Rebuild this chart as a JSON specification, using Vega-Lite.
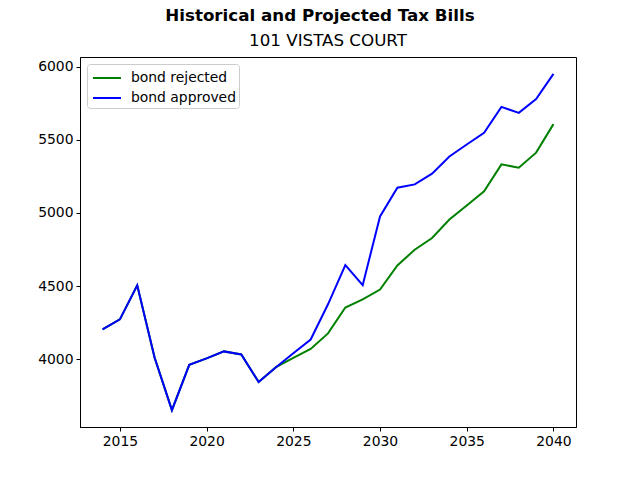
{
  "$schema": "https://vega.github.io/schema/vega-lite/v6.json",
  "width": 496,
  "height": 370,
  "autosize": "none",
  "padding": {"left": 80, "top": 57, "right": 64, "bottom": 53},
  "background": "white",
  "config": {
    "font": "DejaVu Sans",
    "view": {"stroke": "black", "strokeWidth": 1},
    "axis": {"grid": false, "domainColor": "black", "tickColor": "black", "labelColor": "black", "labelFontSize": 13.9, "tickSize": 4, "labelPadding": 3, "domain": true, "titleFontSize": 13}
  },
  "title": {
    "text": "Historical and Projected Tax Bills",
    "subtitle": "101 VISTAS COURT",
    "fontSize": 16.7,
    "fontWeight": "bold",
    "subtitleFontSize": 16.7,
    "subtitleColor": "black",
    "color": "black",
    "anchor": "middle",
    "offset": 7,
    "subtitlePadding": 9,
    "encode": {"title": {"update": {"dx": {"value": -8}}}}
  },
  "data": {
    "values": [
      {"year": 2014, "scenario": "bond rejected", "value": 4203},
      {"year": 2015, "scenario": "bond rejected", "value": 4272},
      {"year": 2016, "scenario": "bond rejected", "value": 4505},
      {"year": 2017, "scenario": "bond rejected", "value": 4011},
      {"year": 2018, "scenario": "bond rejected", "value": 3651},
      {"year": 2019, "scenario": "bond rejected", "value": 3961},
      {"year": 2020, "scenario": "bond rejected", "value": 4005},
      {"year": 2021, "scenario": "bond rejected", "value": 4053},
      {"year": 2022, "scenario": "bond rejected", "value": 4032},
      {"year": 2023, "scenario": "bond rejected", "value": 3843},
      {"year": 2024, "scenario": "bond rejected", "value": 3945},
      {"year": 2025, "scenario": "bond rejected", "value": 4008},
      {"year": 2026, "scenario": "bond rejected", "value": 4070},
      {"year": 2027, "scenario": "bond rejected", "value": 4176},
      {"year": 2028, "scenario": "bond rejected", "value": 4353},
      {"year": 2029, "scenario": "bond rejected", "value": 4408},
      {"year": 2030, "scenario": "bond rejected", "value": 4476},
      {"year": 2031, "scenario": "bond rejected", "value": 4641},
      {"year": 2032, "scenario": "bond rejected", "value": 4748},
      {"year": 2033, "scenario": "bond rejected", "value": 4828},
      {"year": 2034, "scenario": "bond rejected", "value": 4955},
      {"year": 2035, "scenario": "bond rejected", "value": 5051},
      {"year": 2036, "scenario": "bond rejected", "value": 5147},
      {"year": 2037, "scenario": "bond rejected", "value": 5332},
      {"year": 2038, "scenario": "bond rejected", "value": 5309},
      {"year": 2039, "scenario": "bond rejected", "value": 5412},
      {"year": 2040, "scenario": "bond rejected", "value": 5607},
      {"year": 2014, "scenario": "bond approved", "value": 4203},
      {"year": 2015, "scenario": "bond approved", "value": 4272},
      {"year": 2016, "scenario": "bond approved", "value": 4505},
      {"year": 2017, "scenario": "bond approved", "value": 4011},
      {"year": 2018, "scenario": "bond approved", "value": 3651},
      {"year": 2019, "scenario": "bond approved", "value": 3961},
      {"year": 2020, "scenario": "bond approved", "value": 4005},
      {"year": 2021, "scenario": "bond approved", "value": 4053},
      {"year": 2022, "scenario": "bond approved", "value": 4032},
      {"year": 2023, "scenario": "bond approved", "value": 3843},
      {"year": 2024, "scenario": "bond approved", "value": 3945},
      {"year": 2025, "scenario": "bond approved", "value": 4040},
      {"year": 2026, "scenario": "bond approved", "value": 4134},
      {"year": 2027, "scenario": "bond approved", "value": 4375},
      {"year": 2028, "scenario": "bond approved", "value": 4643},
      {"year": 2029, "scenario": "bond approved", "value": 4506},
      {"year": 2030, "scenario": "bond approved", "value": 4976},
      {"year": 2031, "scenario": "bond approved", "value": 5172},
      {"year": 2032, "scenario": "bond approved", "value": 5195},
      {"year": 2033, "scenario": "bond approved", "value": 5268},
      {"year": 2034, "scenario": "bond approved", "value": 5386},
      {"year": 2035, "scenario": "bond approved", "value": 5468},
      {"year": 2036, "scenario": "bond approved", "value": 5548},
      {"year": 2037, "scenario": "bond approved", "value": 5725},
      {"year": 2038, "scenario": "bond approved", "value": 5684},
      {"year": 2039, "scenario": "bond approved", "value": 5778},
      {"year": 2040, "scenario": "bond approved", "value": 5951}
    ]
  },
  "mark": {"type": "line", "strokeWidth": 2, "clip": true},
  "encoding": {
    "x": {
      "field": "year",
      "type": "quantitative",
      "scale": {"domain": [2012.7, 2041.3], "nice": false, "zero": false},
      "axis": {"title": null, "values": [2015, 2020, 2025, 2030, 2035, 2040], "format": "d"}
    },
    "y": {
      "field": "value",
      "type": "quantitative",
      "scale": {"domain": [3536, 6066], "nice": false, "zero": false},
      "axis": {"title": null, "values": [4000, 4500, 5000, 5500, 6000], "format": "d"}
    },
    "color": {
      "field": "scenario",
      "type": "nominal",
      "scale": {"domain": ["bond rejected", "bond approved"], "range": ["green", "blue"]},
      "legend": {
        "title": null,
        "orient": "top-left",
        "offset": 7,
        "symbolType": "M-1.4,0H1.4",
        "symbolStrokeWidth": 2,
        "symbolSize": 400,
        "symbolOffset": 6,
        "labelFontSize": 13.9,
        "labelOffset": 13,
        "labelColor": "black",
        "strokeColor": "#cccccc",
        "fillColor": "white",
        "cornerRadius": 3,
        "padding": 3,
        "rowPadding": 2
      }
    }
  }
}
